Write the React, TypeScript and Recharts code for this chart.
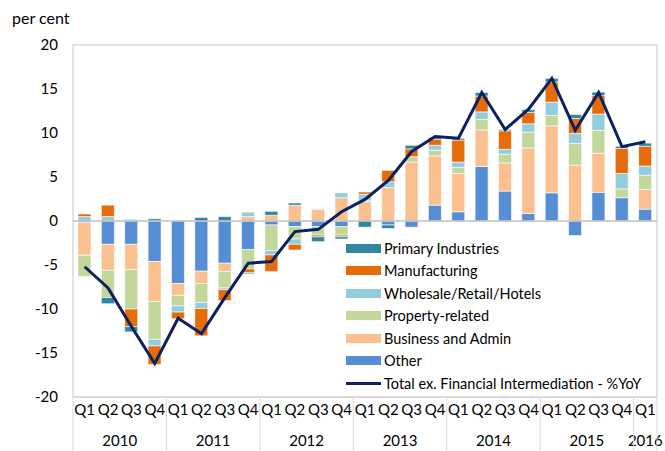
import {
    ComposedChart,
    Bar,
    Line,
    XAxis,
    YAxis,
    Legend,
    ReferenceLine,
    ReferenceArea
} from "recharts";

const QUARTERS = [
    "Q1", "Q2", "Q3", "Q4", "Q1", "Q2", "Q3", "Q4", "Q1", "Q2", "Q3", "Q4",
    "Q1", "Q2", "Q3", "Q4", "Q1", "Q2", "Q3", "Q4", "Q1", "Q2", "Q3", "Q4", "Q1"
];

const YEARS = [
    "2010", "2010", "2010", "2010", "2011", "2011", "2011", "2011",
    "2012", "2012", "2012", "2012", "2013", "2013", "2013", "2013",
    "2014", "2014", "2014", "2014", "2015", "2015", "2015", "2015", "2016"
];

const OTHER = [-0.2, -2.65, -2.65, -4.6, -7.1, -5.7, -4.8, -3.25, -0.45, -0.65, -0.65, -0.65, 0, -0.45, -0.7, 1.8, 1.05, 6.2, 3.4, 0.85, 3.2, -1.65, 3.25, 2.65, 1.35];
const BUSINESS = [-3.7, -2.95, -2.85, -4.55, -1.35, -1.4, -0.95, 0.5, 0.65, 1.8, 1.3, 2.65, 2.2, 3.8, 6.7, 5.6, 4.35, 4.15, 3.2, 7.45, 7.6, 6.35, 4.45, -0.1, 2.25];
const PROPERTY = [-2.4, -3.1, -4.5, -4.3, -1.2, -2.15, -1.85, -2.2, -2.9, -1.4, -0.95, -0.95, 0.1, 0, 0.6, 0.65, 0.7, 1.2, 1.0, 1.8, 1.2, 2.45, 2.6, 1.0, 1.6];
const WHOLESALE = [0.5, 0.5, 0.2, -0.75, -0.7, -0.7, -0.2, 0.5, -0.5, -0.6, 0.1, 0.55, 0.75, 0.65, 0, 0.55, 0.6, 0.85, 0.55, 0.95, 1.5, 1.15, 1.85, 1.75, 1.05];
const MANUFACTURING = [0.3, 1.3, -2.0, -2.1, -0.75, -3.1, -1.25, -0.4, -1.9, -0.65, -0.2, -0.2, 0.25, 1.3, 0.9, 0.7, 2.5, 1.8, 2.1, 1.3, 2.3, 1.7, 2.1, 2.85, 2.25];
const PRIMARY = [0, -0.7, -0.6, 0.25, 0, 0.4, 0.5, -0.15, 0.45, 0.25, -0.55, -0.25, -0.7, -0.4, 0.4, 0.2, 0.2, 0.4, 0.15, 0.3, 0.4, 0.45, 0.4, 0.25, 0.35];
const TOTAL = [-5.2, -7.6, -12.0, -16.2, -11.05, -12.8, -8.7, -4.8, -4.6, -1.2, -0.95, 1.05, 2.45, 4.6, 7.9, 9.6, 9.4, 14.6, 10.4, 12.7, 16.2, 10.3, 14.6, 8.45, 9.0];

const Y_TICKS = [-20, -15, -10, -5, 0, 5, 10, 15, 20];

const FONT = "Lato, 'Open Sans', sans-serif";
const PLOT_W = 584;

const data = QUARTERS.map((q, i) => ({
    idx: i,
    q,
    other: OTHER[i],
    business: BUSINESS[i],
    property: PROPERTY[i],
    wholesale: WHOLESALE[i],
    manufacturing: MANUFACTURING[i],
    primary: PRIMARY[i],
    total: TOTAL[i]
}));

// stacking order from zero outwards
const SERIES = [
    { key: "other", name: "Other", color: "#558ed5" },
    { key: "business", name: "Business and Admin", color: "#fac090" },
    { key: "property", name: "Property-related", color: "#c3d69b" },
    { key: "wholesale", name: "Wholesale/Retail/Hotels", color: "#93cddd" },
    { key: "manufacturing", name: "Manufacturing", color: "#e46c0a" },
    { key: "primary", name: "Primary Industries", color: "#31859c" }
];

const LINE_COLOR = "#0b2161";
const LINE_NAME = "Total ex. Financial Intermediation - %YoY";

function QuarterTick(props: any) {
    const { x, y, payload } = props;
    const i = payload.value;
    const bw = PLOT_W / QUARTERS.length;
    const isFirst = QUARTERS[i] === "Q1";
    const inYear = YEARS.filter((yr) => yr === YEARS[i]).length;
    const last = i === QUARTERS.length - 1;
    return (
        <g>
            <text x={x} y={y + 18} textAnchor="middle" fontSize={15} fontFamily={FONT} fill="#000">
                {QUARTERS[i]}
            </text>
            {isFirst && (
                <text x={x + ((inYear - 1) * bw) / 2} y={y + 49} textAnchor="middle" fontSize={15} fontFamily={FONT} fill="#000">
                    {YEARS[i]}
                </text>
            )}
            {isFirst && (
                <line x1={x - bw / 2} x2={x - bw / 2} y1={y} y2={y + 56} stroke="#d9d9d9" />
            )}
            {last && (
                <line x1={x + bw / 2} x2={x + bw / 2} y1={y} y2={y + 56} stroke="#d9d9d9" />
            )}
        </g>
    );
}

function renderLegend() {
    const items = [...SERIES].reverse();
    return (
        <div style={{ fontFamily: FONT, fontSize: 14.5, color: "#000" }}>
            {items.map((s) => (
                <div key={s.key} style={{ display: "flex", alignItems: "center", height: 22.5 }}>
                    <span style={{ display: "inline-block", width: 35, height: 9, background: s.color, marginRight: 3 }} />
                    <span>{s.name}</span>
                </div>
            ))}
            <div style={{ display: "flex", alignItems: "center", height: 22.5 }}>
                <span style={{ display: "inline-block", width: 35, height: 3, background: LINE_COLOR, marginRight: 3 }} />
                <span>{LINE_NAME}</span>
            </div>
        </div>
    );
}

export default function App() {
    return (
        <div style={{ position: "absolute", left: 0, top: 0, width: 665, height: 451, background: "#fff" }}>
            <div style={{ position: "absolute", left: 12, top: 8, fontFamily: FONT, fontSize: 16, color: "#000" }}>
                per cent
            </div>
            <ComposedChart
                width={665}
                height={451}
                data={data}
                stackOffset="sign"
                barSize={13}
                margin={{ top: 45, right: 8, bottom: 0, left: 10 }}
            >
                <ReferenceArea y1={-20} y2={20} fill="none" stroke="#d9d9d9" strokeWidth={1.5} />
                <XAxis
                    dataKey="idx"
                    type="category"
                    interval={0}
                    height={54}
                    tickSize={0}
                    tickMargin={0}
                    tickLine={false}
                    axisLine={{ stroke: "#d9d9d9", strokeWidth: 1.5 }}
                    tick={<QuarterTick />}
                />
                <YAxis
                    domain={[-20, 20]}
                    ticks={Y_TICKS}
                    width={63}
                    tickSize={0}
                    tickMargin={15}
                    axisLine={false}
                    tickLine={false}
                    tick={{ fontSize: 15, fontFamily: FONT, fill: "#000" }}
                />
                {SERIES.map((s) => (
                    <Bar
                        key={s.key}
                        dataKey={s.key}
                        name={s.name}
                        stackId="a"
                        fill={s.color}
                        stroke="#ffffff"
                        strokeWidth={0.6}
                        isAnimationActive={false}
                    />
                ))}
                <ReferenceLine y={0} stroke="#bfbfbf" strokeWidth={1.5} />
                <Line
                    dataKey="total"
                    name={LINE_NAME}
                    type="linear"
                    stroke={LINE_COLOR}
                    strokeWidth={3}
                    dot={false}
                    activeDot={false}
                    isAnimationActive={false}
                />
                <Legend
                    layout="vertical"
                    align="center"
                    verticalAlign="middle"
                    content={renderLegend}
                    wrapperStyle={{ left: 346, top: 237, width: 310, height: 160 }}
                />
            </ComposedChart>
        </div>
    );
}
